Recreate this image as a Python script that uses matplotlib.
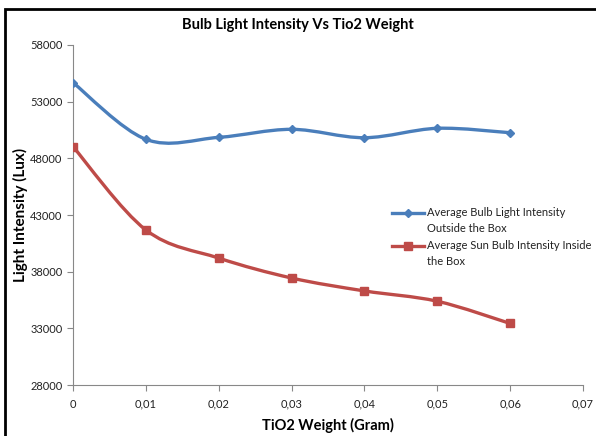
import numpy as np
import matplotlib
matplotlib.use("Agg")
from matplotlib import pyplot as plt
from matplotlib.path import Path
from matplotlib.patches import PathPatch, Rectangle
from matplotlib.lines import Line2D

plt.rcParams['font.family'] = ['Lato', 'DejaVu Sans']

weight = [0, 0.01, 0.02, 0.03, 0.04, 0.05, 0.06]
outside = [54680, 49680, 49850, 50560, 49820, 50650, 50260]
inside = [49030, 41680, 39200, 37440, 36300, 35390, 33430]

label_outside = "Average Bulb Light Intensity\nOutside the Box"
label_inside = "Average Sun Bulb Intensity Inside\nthe Box"

blue = "#4A7EBB"
red = "#BE4B48"


def smooth_path(xs, ys):
    # Catmull-Rom style bezier through every point, like a spreadsheet "smoothed line"
    pts = np.column_stack([xs, ys]).astype(float)
    verts = [pts[0]]
    codes = [Path.MOVETO]
    n = len(pts)
    for i in range(n - 1):
        p0 = pts[i - 1] if i > 0 else pts[i]
        p1 = pts[i]
        p2 = pts[i + 1]
        p3 = pts[i + 2] if i + 2 < n else pts[i + 1]
        c1 = p1 + (p2 - p0) / 6.0
        c2 = p2 - (p3 - p1) / 6.0
        verts += [c1, c2, p2]
        codes += [Path.CURVE4] * 3
    return Path(verts, codes)


W, H = 596, 436
fig = plt.figure(figsize=(W / 100, H / 100), dpi=100)
ax = fig.add_axes([73 / W, 1 - 385 / H, 510 / W, 340 / H])

for ys, col, mk, ms in [(outside, blue, "D", 4.5), (inside, red, "s", 6)]:
    ax.add_patch(PathPatch(smooth_path(weight, ys), facecolor="none",
                           edgecolor=col, lw=2.4, zorder=2))
    ax.plot(weight, ys, ls="none", marker=mk, ms=ms, color=col, zorder=3)

ax.set_xlim(0, 0.07)
ax.set_ylim(28000, 58000)
ax.set_xticks(np.arange(0, 0.0701, 0.01))
ax.set_xticklabels(["0", "0,01", "0,02", "0,03", "0,04", "0,05", "0,06", "0,07"])
ax.set_yticks(range(28000, 58001, 5000))

for side in ["top", "right"]:
    ax.spines[side].set_visible(False)
for side in ["left", "bottom"]:
    ax.spines[side].set_color("#888888")
    ax.spines[side].set_linewidth(0.8)
ax.tick_params(axis="both", colors="#888888", labelcolor="#222222",
               labelsize=8, length=4, width=0.8)
ax.tick_params(axis="x", pad=6)

ax.set_xlabel("TiO2 Weight (Gram)", fontsize=10.5, fontweight="bold", labelpad=6)
ax.set_ylabel("Light Intensity (Lux)", fontsize=11, fontweight="bold")
ax.yaxis.set_label_coords((28 - 73) / 510, 0.5)
fig.text(0.5, 1 - 25 / H, "Bulb Light Intensity Vs Tio2 Weight", ha="center",
         va="center", fontsize=10.5, fontweight="bold")

# legend: handle beside the first line of each wrapped label
for (txt, col, mk, ms), yp in zip([(label_outside, blue, "D", 4.5),
                                   (label_inside, red, "s", 6)], [213, 246]):
    fy = 1 - yp / H
    fig.add_artist(Line2D([392 / W, 424 / W], [fy, fy], color=col, lw=2.4,
                          transform=fig.transFigure))
    fig.add_artist(Line2D([408 / W], [fy], color=col, marker=mk, ms=ms,
                          transform=fig.transFigure))
    fig.text(427 / W, fy + 6 / H, txt, ha="left", va="top", fontsize=8,
             color="#222222", linespacing=1.55)

# outer chart frame
fig.add_artist(Rectangle((5 / W, -0.1), 1.2, 1 - 9 / H + 0.1,
                         transform=fig.transFigure, fill=False,
                         edgecolor="black", lw=2))

fig.savefig("out.png", dpi=100)
